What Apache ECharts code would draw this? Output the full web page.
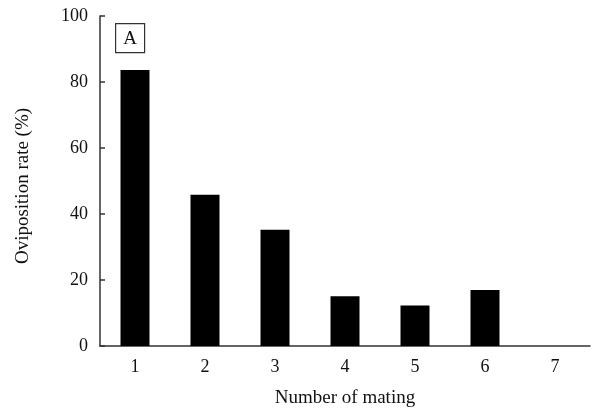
<!DOCTYPE html>
<html>
<head>
<meta charset="utf-8">
<script src="https://cdn.jsdelivr.net/npm/echarts@6/dist/echarts.min.js"></script>
<style>html,body{margin:0;padding:0;background:#fff;}#c{width:595px;height:412px;}</style>
</head>
<body>
<div id="c"></div>
<script>
const categories = ['1', '2', '3', '4', '5', '6', '7'];
const ovipositionRate = [83.6, 45.8, 35.2, 15.1, 12.3, 17.0, 0];
const yTicks = { min: 0, max: 100, interval: 20 };
const panelLabel = 'A';

const FONT = '"Liberation Serif", "DejaVu Serif", serif';
const chart = echarts.init(document.getElementById('c'), null, { renderer: 'canvas' });
chart.setOption({
  animation: false,
  backgroundColor: '#fff',
  grid: { left: 100, right: 5, top: 16, bottom: 66, containLabel: false, outerBoundsMode: 'none' },
  xAxis: {
    type: 'category',
    data: categories,
    name: 'Number of mating',
    nameLocation: 'middle',
    nameGap: 43,
    nameTextStyle: { fontFamily: FONT, fontSize: 19, color: '#111' },
    axisLine: { lineStyle: { color: '#333', width: 1.5 } },
    axisTick: { inside: true, length: 5, lineStyle: { color: '#333', width: 1.5 } },
    axisLabel: { fontFamily: FONT, fontSize: 18, color: '#111', margin: 12 }
  },
  yAxis: {
    type: 'value',
    min: yTicks.min, max: yTicks.max, interval: yTicks.interval,
    name: 'Oviposition rate (%)',
    nameLocation: 'middle',
    nameGap: 67,
    nameTextStyle: { fontFamily: FONT, fontSize: 19, color: '#111', padding: [0, 10, 0, 0] },
    axisLine: { show: true, lineStyle: { color: '#333', width: 1.5 } },
    axisTick: { show: true, inside: true, length: 5, lineStyle: { color: '#333', width: 1.5 } },
    splitLine: { show: false },
    axisLabel: { fontFamily: FONT, fontSize: 18, color: '#111', margin: 12 }
  },
  series: [{
    type: 'bar',
    data: ovipositionRate,
    barWidth: 29,
    itemStyle: { color: '#000' }
  }],
  graphic: [{
    type: 'group',
    left: 115, top: 23,
    children: [
      { type: 'rect', shape: { x: 0, y: 0, width: 29, height: 29 }, style: { fill: '#fff', stroke: '#333', lineWidth: 1.2 } },
      { type: 'text', x: 14.5, y: 15, style: { text: panelLabel, fontFamily: FONT, fontSize: 19, fill: '#111', align: 'center', verticalAlign: 'middle' } }
    ]
  }]
});
</script>
</body>
</html>
